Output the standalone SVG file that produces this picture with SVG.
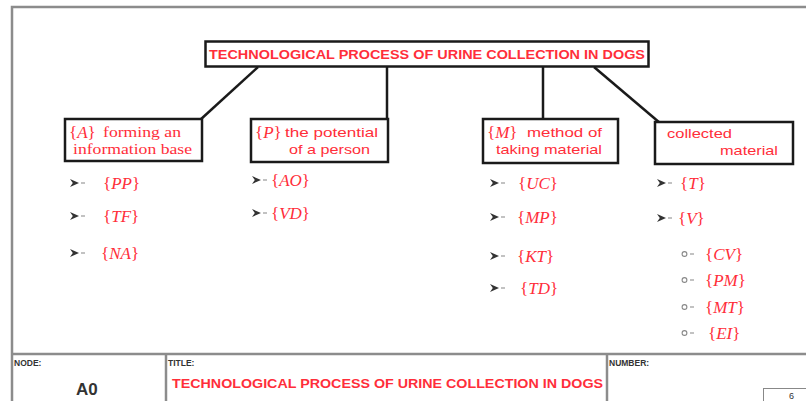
<svg xmlns="http://www.w3.org/2000/svg" width="806" height="401" viewBox="0 0 806 401">
<style>
.frame{fill:none;stroke:#8c8c8c;stroke-width:2.5}
.box{fill:#fff;stroke:#1a1a1a;stroke-width:2.5}
.conn{stroke:#1a1a1a;stroke-width:2.5;fill:none}
.red{fill:#ff2e3a}
.ttl{font-family:"Liberation Sans",Arial,sans-serif;font-weight:bold;font-size:13px}
.lab{font-family:"Liberation Sans",Arial,sans-serif;font-size:13px}
.serif{font-family:"Liberation Serif","Times New Roman",serif;font-size:14px}
.math{font-family:"Liberation Serif","Times New Roman",serif;font-size:17px;fill:#ff2e3a}
.it{font-style:italic}
.small{font-family:"Liberation Sans",Arial,sans-serif;font-weight:bold;font-size:8.5px;fill:#333}
.dash{stroke:#999;stroke-width:1.2}
</style>
<defs>
<g id="arr">
<path d="M0,-4 L9,0 L0,4 L2.8,0 Z" fill="#333"/>
<line class="dash" x1="11" y1="0" x2="15" y2="0"/>
</g>
<g id="circ">
<circle cx="2.5" cy="0" r="2.4" fill="none" stroke="#888" stroke-width="1.1"/>
<line class="dash" x1="8" y1="0" x2="12" y2="0"/>
</g>
</defs>

<rect class="frame" x="12" y="7" width="800" height="400"/>
<line class="frame" x1="12" y1="354" x2="806" y2="354"/>
<line class="frame" x1="166" y1="354" x2="166" y2="401" stroke-width="1.5"/>
<line class="frame" x1="607" y1="354" x2="607" y2="401" stroke-width="1.5"/>

<g id="connectors">
<line class="conn" x1="258" y1="67" x2="200" y2="120"/>
<line class="conn" x1="387" y1="67" x2="387" y2="120"/>
<line class="conn" x1="543" y1="67" x2="543" y2="120"/>
<line class="conn" x1="594" y1="67" x2="660" y2="123"/>
</g>

<g id="title">
<rect class="box" x="205.5" y="41.5" width="443" height="25" stroke-width="3"/>
<text class="ttl red" x="209" y="59" textLength="436" lengthAdjust="spacingAndGlyphs">TECHNOLOGICAL PROCESS OF URINE COLLECTION IN DOGS</text>
</g>

<g id="nodeA">
<rect class="box" x="65" y="119" width="137" height="42"/>
<text class="math" x="69" y="138">{<tspan class="it">A</tspan>}</text>
<text class="serif red" x="103" y="137" textLength="78" lengthAdjust="spacingAndGlyphs">forming an</text>
<text class="serif red" x="73" y="154" textLength="119" lengthAdjust="spacingAndGlyphs">information base</text>
</g>

<g id="nodeP">
<rect class="box" x="251" y="119" width="137" height="43"/>
<text class="math" x="255" y="138">{<tspan class="it">P</tspan>}</text>
<text class="lab red" x="285" y="137" textLength="93" lengthAdjust="spacingAndGlyphs">the potential</text>
<text class="lab red" x="289" y="154" textLength="81" lengthAdjust="spacingAndGlyphs">of a person</text>
</g>

<g id="nodeM">
<rect class="box" x="483" y="119" width="135" height="44"/>
<text class="math" x="487" y="138">{<tspan class="it">M</tspan>}</text>
<text class="lab red" x="527" y="137" textLength="75" lengthAdjust="spacingAndGlyphs">method of</text>
<text class="lab red" x="496" y="154" textLength="106" lengthAdjust="spacingAndGlyphs">taking material</text>
</g>

<g id="nodeC">
<rect class="box" x="655" y="122" width="138" height="42"/>
<text class="lab red" x="667" y="138" textLength="65" lengthAdjust="spacingAndGlyphs">collected</text>
<text class="lab red" x="720" y="155" textLength="58" lengthAdjust="spacingAndGlyphs">material</text>
</g>

<g id="listA">
<use href="#arr" x="70" y="183"/>
<text class="math" x="103" y="189">{<tspan class="it">PP</tspan>}</text>
<use href="#arr" x="70" y="216"/>
<text class="math" x="103" y="222">{<tspan class="it">TF</tspan>}</text>
<use href="#arr" x="70" y="253"/>
<text class="math" x="101" y="259">{<tspan class="it">NA</tspan>}</text>
</g>

<g id="listP">
<use href="#arr" x="252" y="180"/>
<text class="math" x="271" y="186">{<tspan class="it">AO</tspan>}</text>
<use href="#arr" x="252" y="213"/>
<text class="math" x="271" y="219">{<tspan class="it">VD</tspan>}</text>
</g>

<g id="listM">
<use href="#arr" x="490" y="183"/>
<text class="math" x="518" y="189">{<tspan class="it">UC</tspan>}</text>
<use href="#arr" x="490" y="217"/>
<text class="math" x="517" y="223">{<tspan class="it">MP</tspan>}</text>
<use href="#arr" x="490" y="256"/>
<text class="math" x="517" y="262">{<tspan class="it">KT</tspan>}</text>
<use href="#arr" x="490" y="288"/>
<text class="math" x="520" y="294">{<tspan class="it">TD</tspan>}</text>
</g>

<g id="listC">
<use href="#arr" x="657" y="183"/>
<text class="math" x="680" y="189">{<tspan class="it">T</tspan>}</text>
<use href="#arr" x="657" y="218"/>
<text class="math" x="678" y="224">{<tspan class="it">V</tspan>}</text>
<use href="#circ" x="682" y="254"/>
<text class="math" x="705" y="260">{<tspan class="it">CV</tspan>}</text>
<use href="#circ" x="682" y="280"/>
<text class="math" x="705" y="286">{<tspan class="it">PM</tspan>}</text>
<use href="#circ" x="682" y="307"/>
<text class="math" x="705" y="313">{<tspan class="it">MT</tspan>}</text>
<use href="#circ" x="682" y="333"/>
<text class="math" x="708" y="339">{<tspan class="it">EI</tspan>}</text>
</g>

<g id="footer">
<text class="small" x="14" y="366">NODE:</text>
<text x="76" y="395" font-family="Liberation Sans,Arial,sans-serif" font-size="17" font-weight="bold" fill="#333">A0</text>
<text class="small" x="168" y="366">TITLE:</text>
<text class="ttl red" x="172" y="388" font-size="14" textLength="431" lengthAdjust="spacingAndGlyphs">TECHNOLOGICAL PROCESS OF URINE COLLECTION IN DOGS</text>
<text class="small" x="609" y="366">NUMBER:</text>
<rect x="763.5" y="388.5" width="50" height="20" fill="none" stroke="#888" stroke-width="1"/>
<text x="789" y="399" font-family="Liberation Sans,Arial,sans-serif" font-size="9" fill="#333">6</text>
</g>
</svg>
